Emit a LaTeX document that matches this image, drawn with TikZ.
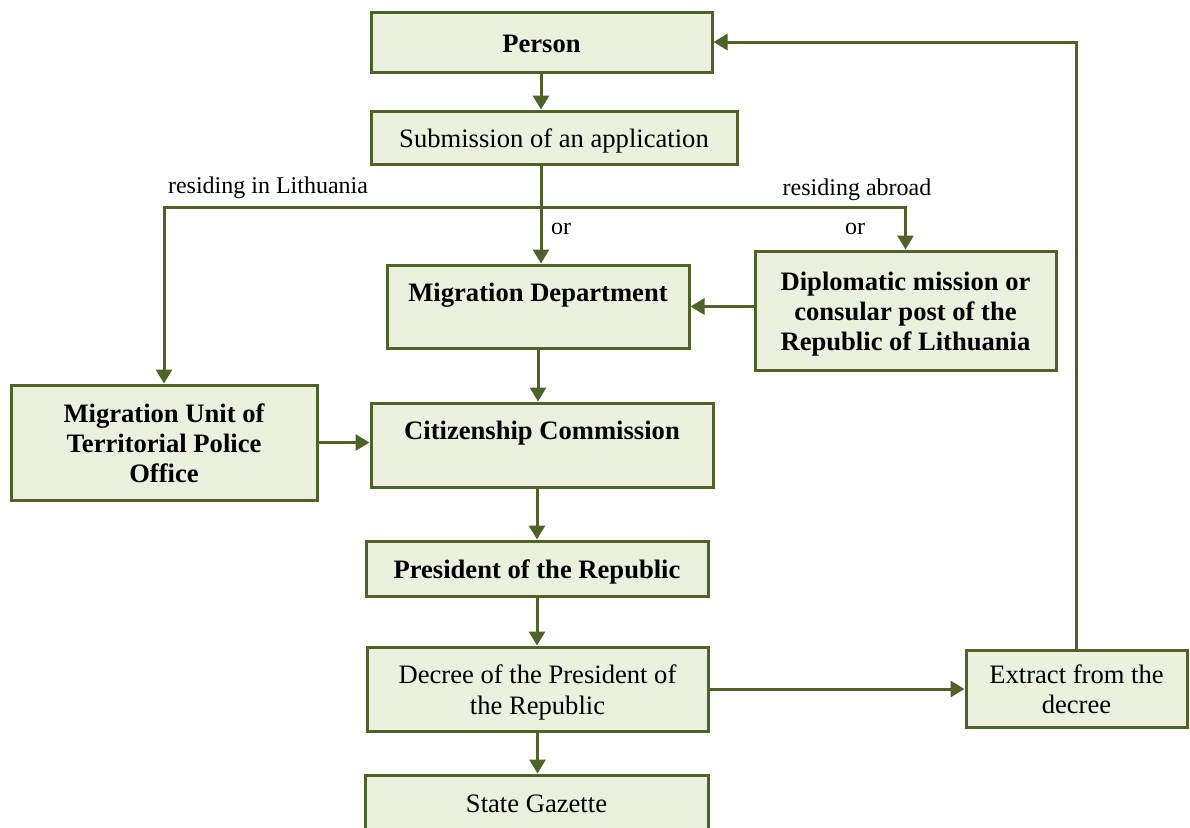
\documentclass[tikz,border=0pt]{standalone}
\usepackage{fontspec}
\setmainfont{Liberation Serif}
\usetikzlibrary{arrows.meta}
\definecolor{olive}{HTML}{4F6228}
\definecolor{boxfill}{HTML}{EBF1DE}
\newcommand{\ltop}{\rule{0pt}{13pt}}
\newcommand{\lbot}{\rule[-3pt]{0pt}{0pt}}
\tikzset{
  box/.style={draw=olive, fill=boxfill, line width=1.5pt, rectangle, align=center,
    inner sep=0pt, font=\fontsize{13.3}{15.1}\selectfont},
  bbox/.style={box, font=\fontsize{13.3}{15.1}\selectfont\bfseries},
  arr/.style={draw=olive, line width=1.5pt, -{Triangle[width=8pt,length=7pt]}},
  ln/.style={draw=olive, line width=1.5pt},
  lbl/.style={font=\fontsize{12}{14}\selectfont, inner sep=0pt}
}
\begin{document}
\begin{tikzpicture}[x=0.5pt,y=-0.5pt]
\clip (0,0) rectangle (1190,827);
\fill[white] (0,0) rectangle (1190,827);
\node[bbox, minimum width=170.5pt, minimum height=30pt] (person) at (541.5,42) {\ltop Person\lbot};
\node[box, minimum width=183pt, minimum height=26.5pt] (subm) at (554,137.5) {\ltop Submission of an application\lbot};
\node[bbox, minimum width=151pt, minimum height=41.5pt] (migdep) at (538,306.5) {\ltop Migration Department\\\lbot};
\node[bbox, minimum width=150.5pt, minimum height=59.5pt] (dipl) at (905.5,310.5) {\ltop Diplomatic mission or\\consular post of the\\Republic of Lithuania\lbot};
\node[bbox, minimum width=153pt, minimum height=57.5pt] (migunit) at (164,442.5) {\ltop Migration Unit of\\Territorial Police\\Office\lbot};
\node[bbox, minimum width=171pt, minimum height=42pt] (citcom) at (542,445) {\ltop Citizenship Commission\\\lbot};
\node[bbox, minimum width=171pt, minimum height=27.5pt] (pres) at (537,568.5) {\ltop President of the Republic\lbot};
\node[box, minimum width=170.5pt, minimum height=42pt] (decree) at (537.5,689) {\ltop Decree of the President of\\the Republic\lbot};
\node[box, minimum width=110.5pt, minimum height=38.5pt] (extract) at (1076.5,688.5) {\ltop Extract from the\\decree\lbot};
\node[box, minimum width=171.5pt, minimum height=42.5pt] (gazette) at (536.5,817.5) {\ltop State Gazette\\\lbot};

\coordinate (br) at (541,207);
\node[lbl] (lLit) at (268,188) {residing in Lithuania};
\node[lbl] (lAbr) at (857,190) {residing abroad};
\node[lbl] (or1) at (561,229) {or};
\node[lbl] (or2) at (855,229) {or};

\draw[arr] (person.south -| br) -- (br |- subm.north);
\draw[ln] (br |- subm.south) -- (br);
\draw[arr] (br) -| (migunit.north);
\draw[arr] (br) -| (dipl.north);
\draw[arr] (br) -- (br |- migdep.north);
\draw[arr] (dipl.west |- migdep.east) -- (migdep.east);
\draw[arr] (migdep.south) -- (migdep.south |- citcom.north);
\draw[arr] (migunit.east) -- (migunit.east -| citcom.west);
\draw[arr] (pres.north |- citcom.south) -- (pres.north);
\draw[arr] (pres.south) -- (pres.south |- decree.north);
\draw[arr] (decree.east) -- (decree.east -| extract.west);
\draw[arr] (decree.south) -- (decree.south |- gazette.north);
\draw[arr] (extract.north) |- (person.east);
\end{tikzpicture}
\end{document}
